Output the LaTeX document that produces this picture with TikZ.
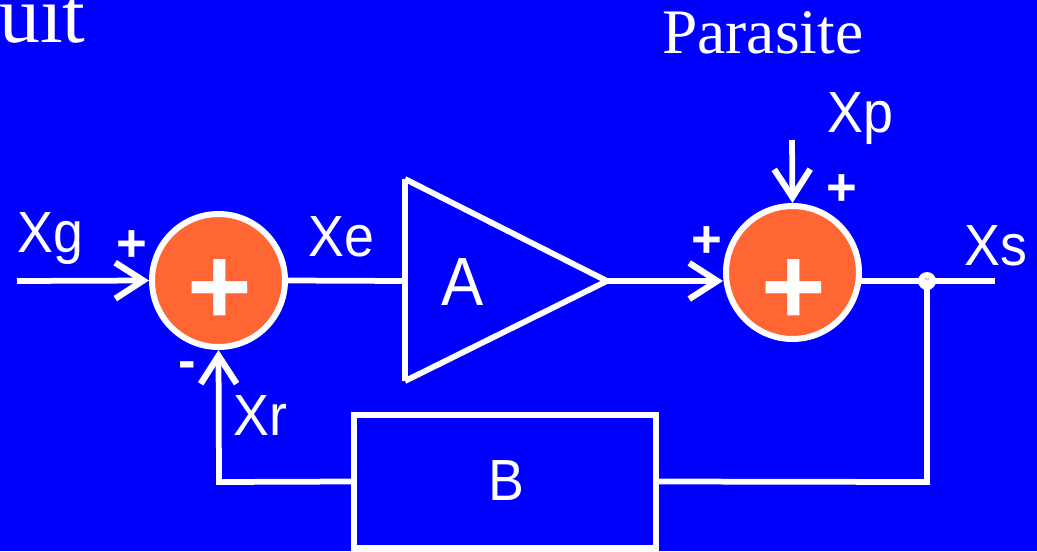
\documentclass[tikz,border=0pt]{standalone}
\usepackage{fontspec}
\setmainfont{Liberation Sans}
\newfontfamily\serifface{Liberation Serif}
\usetikzlibrary{arrows.meta}
\definecolor{slideblue}{RGB}{0,0,255}
\definecolor{sumorange}{RGB}{255,102,51}
\tikzset{
  wire/.style={white, line width=.115cm},
  arrowwire/.style={wire, -{Straight Barb[length=.56cm, width=.72cm, line width=.125cm]}},
  sumnode/.style={circle, draw=white, fill=sumorange, line width=.12cm, minimum size=2.66cm, inner sep=0},
  plusmark/.style={white, inner sep=0, font=\bfseries\fontsize{63pt}{63pt}\selectfont},
  blocknode/.style={draw=white, line width=.115cm, minimum width=6.04cm, minimum height=2.66cm, inner sep=0},
  lab/.style={white, anchor=base west, inner sep=0, transform shape, yscale=1.08, font=\fontsize{30.6pt}{32pt}\selectfont},
  signlab/.style={white, inner sep=0, font=\bfseries\fontsize{30pt}{32pt}\selectfont},
  seriflab/.style={white, anchor=base west, inner sep=0}
}
\begin{document}
\begin{tikzpicture}[x=.02cm, y=-.02cm]
\fill[slideblue] (0,0) rectangle (1037,551);
\useasboundingbox (0,0) rectangle (1037,551);
\node[seriflab, font=\serifface\fontsize{46.5pt}{48pt}\selectfont] (titlepart) at (-1,42) {uit};
\node[seriflab, font=\serifface\fontsize{36.1pt}{38pt}\selectfont] (parasite) at (662,53) {Parasite};
\node[sumnode] (sumE) at (218.5,280.5) {};
\node[sumnode] (sumP) at (792.5,272.5) {};
\node[plusmark] (plusE) at (220,292) {+};
\node[plusmark] (plusP) at (794,292) {+};
\node[blocknode] (boxB) at (505,481.5) {};
\coordinate (ampTop) at (405,179);
\coordinate (ampBot) at (405,381);
\coordinate (ampTip) at (607,281);
\coordinate (ampIn) at (405,281);
\draw[wire] (ampTop) -- (ampTip) -- (ampBot);
\draw[wire] (ampTop) -- (ampBot);
\coordinate (inG) at (17,281);
\coordinate (inP) at (723,281);
\coordinate (outP) at (860,281);
\coordinate (tapS) at (927,281);
\coordinate (outS) at (995,281);
\coordinate (topP) at (792,140);
\coordinate (cornerR) at (219,482);
\coordinate (cornerS) at (927,482);
\draw[arrowwire] (inG) -- (sumE.west);
\draw[wire] (sumE.east) -- (ampIn);
\draw[arrowwire] (ampTip) -- (inP);
\draw[arrowwire] (topP) -- (sumP.north);
\draw[wire] (outP) -- (outS);
\draw[wire] (tapS) -- (cornerS) -- (boxB.east);
\draw[arrowwire] (boxB.west) -- (cornerR) -- (sumE.south);
\fill[white] (tapS) ellipse (9 and 9);
\fill[sumorange!40!white] (tapS) ++(0,-2) ellipse (3 and 1);
\foreach \nm/\x/\y/\txt in {g/17/252/Xg, e/308/256/Xe, r/233/435/Xr, p/827/132/Xp, s/964/265/Xs} {
 \node[lab] (lab\nm) at (\x,\y) {\txt};
}
\node[lab, font=\fontsize{36pt}{38pt}\selectfont] (laba) at (441,305) {A};
\node[lab] (labb) at (488,500) {B};
\foreach \nm/\x/\y/\txt in {one/131.5/246.5/+, two/707/242.5/+, three/841.5/190/+, four/187/370.5/-} {
 \node[signlab] (sign\nm) at (\x,\y) {\txt};
}
\end{tikzpicture}
\end{document}
